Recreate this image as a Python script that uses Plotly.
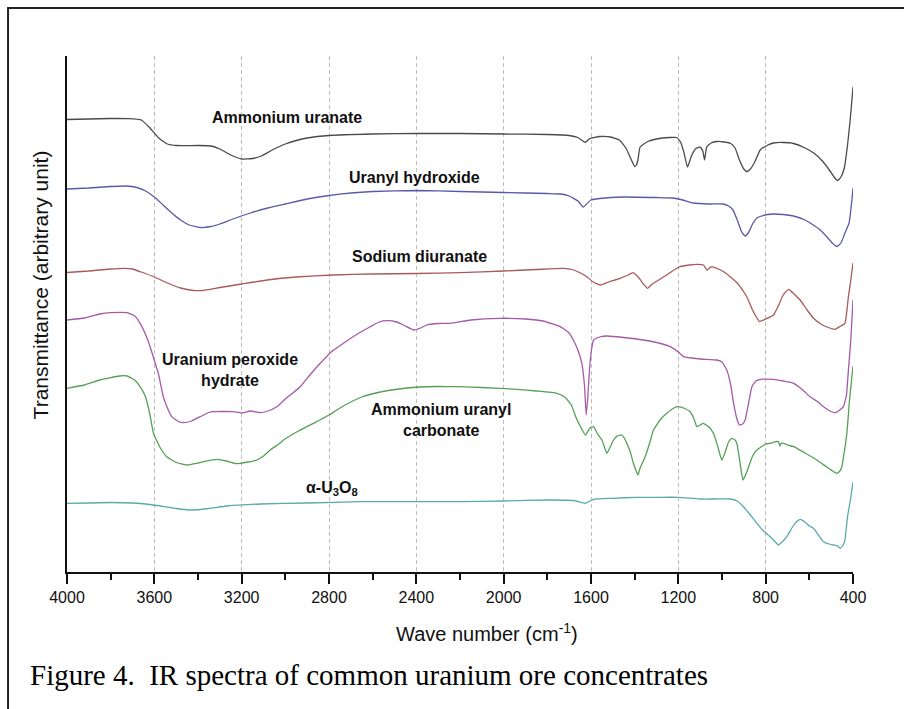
import plotly.graph_objects as go

# ---------------- data (wavenumber in cm^-1, transmittance in arbitrary offset units) ----------------
au_wn = [4000, 3900, 3800, 3720, 3660, 3620, 3580, 3540, 3500, 3400, 3340, 3300, 3250, 3200, 3150, 3110,
         3060, 3000, 2950, 2900, 2800, 2600, 2400, 2200, 2000, 1800, 1700, 1660, 1627, 1605, 1560, 1510,
         1470, 1440, 1415, 1400, 1392, 1385, 1375, 1340, 1300, 1240, 1207, 1190, 1175, 1158, 1140, 1120,
         1100, 1088, 1080, 1070, 1050, 1024, 990, 960, 940, 920, 900, 886, 870, 850, 825, 790, 764, 720,
         672, 620, 580, 540, 505, 480, 470, 455, 440, 425, 413, 405, 400]
au_t = [4.525, 4.53, 4.535, 4.533, 4.52, 4.44, 4.34, 4.28, 4.265, 4.265, 4.26, 4.23, 4.17, 4.13, 4.135, 4.16,
        4.22, 4.28, 4.315, 4.34, 4.365, 4.38, 4.385, 4.385, 4.38, 4.375, 4.365, 4.345, 4.295, 4.335, 4.355, 4.35,
        4.32, 4.24, 4.12, 4.055, 4.07, 4.12, 4.25, 4.305, 4.33, 4.345, 4.345, 4.30, 4.20, 4.05, 4.16, 4.235,
        4.25, 4.21, 4.12, 4.25, 4.29, 4.305, 4.30, 4.285, 4.24, 4.12, 4.03, 4.005, 4.03, 4.10, 4.22, 4.27, 4.29, 4.295,
        4.285, 4.24, 4.19, 4.11, 4.01, 3.93, 3.915, 3.95, 4.04, 4.27, 4.52, 4.72, 4.85]

uh_wn = [4000, 3900, 3800, 3730, 3680, 3640, 3600, 3560, 3520, 3480, 3440, 3390, 3340, 3300, 3240, 3160,
         3080, 3000, 2900, 2800, 2700, 2600, 2400, 2200, 2000, 1800, 1740, 1700, 1660, 1636, 1620, 1600,
         1560, 1450, 1300, 1224, 1180, 1132, 1060, 995, 970, 950, 930, 910, 894, 880, 860, 840, 825, 790,
         765, 720, 673, 620, 582, 550, 519, 495, 473, 455, 437, 418, 405, 400]
uh_t = [3.83, 3.84, 3.855, 3.86, 3.845, 3.81, 3.75, 3.67, 3.59, 3.52, 3.47, 3.445, 3.455, 3.48, 3.53, 3.59,
        3.64, 3.68, 3.73, 3.765, 3.79, 3.805, 3.815, 3.805, 3.795, 3.785, 3.78, 3.76, 3.71, 3.65, 3.68, 3.72,
        3.735, 3.75, 3.745, 3.74, 3.72, 3.69, 3.68, 3.68, 3.66, 3.62, 3.52, 3.40, 3.36, 3.39, 3.48, 3.54, 3.555, 3.575,
        3.58, 3.575, 3.56, 3.52, 3.47, 3.42, 3.35, 3.29, 3.255, 3.29, 3.39, 3.49, 3.72, 3.84]

sd_wn = [4000, 3900, 3800, 3740, 3700, 3660, 3600, 3540, 3480, 3420, 3380, 3300, 3200, 3083, 2950, 2780,
         2600, 2400, 2200, 2000, 1850, 1727, 1680, 1640, 1619, 1590, 1558, 1520, 1467, 1430, 1408, 1380,
         1360, 1341, 1320, 1290, 1253, 1220, 1192, 1150, 1115, 1085, 1069, 1050, 1024, 990, 963, 930, 900,
         886, 860, 840, 828, 800, 764, 740, 720, 695, 670, 642, 610, 581, 540, 500, 482, 460, 437, 421, 410, 400]
sd_t = [2.995, 3.01, 3.03, 3.037, 3.03, 3.00, 2.95, 2.89, 2.84, 2.815, 2.815, 2.845, 2.88, 2.92, 2.95, 2.97,
        2.98, 2.985, 2.993, 3.01, 3.025, 3.037, 3.02, 2.98, 2.953, 2.90, 2.87, 2.90, 2.937, 2.97, 2.993, 2.94,
        2.88, 2.837, 2.88, 2.92, 2.97, 3.02, 3.053, 3.07, 3.077, 3.07, 3.02, 3.05, 3.037, 3.00, 2.953, 2.89, 2.80,
        2.75, 2.62, 2.54, 2.503, 2.53, 2.57, 2.67, 2.77, 2.827, 2.78, 2.72, 2.62, 2.537, 2.47, 2.435, 2.427, 2.455,
        2.487, 2.753, 2.92, 3.09]

up_wn = [4000, 3920, 3850, 3800, 3725, 3690, 3665, 3630, 3605, 3580, 3559, 3540, 3520, 3490, 3466, 3430,
         3390, 3350, 3329, 3280, 3239, 3200, 3160, 3115, 3080, 3039, 3000, 2960, 2932, 2880, 2840, 2790,
         2734, 2670, 2611, 2570, 2535, 2490, 2459, 2413, 2380, 2352, 2300, 2245, 2150, 2016, 1900, 1820,
         1741, 1700, 1681, 1660, 1642, 1630, 1622, 1614, 1607, 1598, 1588, 1560, 1527, 1450, 1360, 1290,
         1237, 1200, 1176, 1100, 1024, 1000, 978, 960, 947, 930, 920, 905, 894, 880, 863, 845, 825, 764,
         720, 672, 630, 597, 560, 535, 505, 482, 460, 444, 430, 421, 410, 400]
up_t = [2.52, 2.54, 2.58, 2.593, 2.593, 2.56, 2.487, 2.32, 2.153, 1.97, 1.753, 1.64, 1.553, 1.505, 1.493, 1.51,
        1.553, 1.595, 1.603, 1.605, 1.603, 1.59, 1.61, 1.593, 1.61, 1.653, 1.73, 1.80, 1.853, 1.99, 2.087, 2.20,
        2.287, 2.38, 2.453, 2.50, 2.513, 2.50, 2.47, 2.42, 2.44, 2.47, 2.485, 2.487, 2.52, 2.537, 2.53, 2.51,
        2.453, 2.39, 2.32, 2.22, 2.087, 1.87, 1.57, 1.77, 2.02, 2.22, 2.32, 2.35, 2.36, 2.345, 2.32, 2.29,
        2.253, 2.20, 2.153, 2.13, 2.12, 2.10, 2.02, 1.87, 1.687, 1.52, 1.47, 1.48, 1.52, 1.67, 1.853, 1.91, 1.927, 1.927,
        1.91, 1.887, 1.82, 1.753, 1.70, 1.653, 1.61, 1.593, 1.62, 1.653, 1.77, 2.02, 2.32, 2.72]

uc_wn = [4000, 3920, 3850, 3760, 3725, 3690, 3665, 3640, 3620, 3604, 3575, 3543, 3500, 3451, 3400, 3375,
         3313, 3270, 3230, 3207, 3170, 3130, 3100, 3069, 3030, 3008, 2940, 2871, 2800, 2764, 2718, 2650,
         2565, 2480, 2383, 2300, 2199, 2100, 1939, 1850, 1756, 1720, 1690, 1670, 1645, 1625, 1605, 1588,
         1570, 1550, 1527, 1510, 1497, 1480, 1459, 1445, 1436, 1420, 1406, 1395, 1385, 1375, 1352, 1330,
         1314, 1280, 1253, 1220, 1201, 1170, 1146, 1130, 1115, 1100, 1085, 1060, 1039, 1020, 1001, 985,
         970, 955, 940, 932, 918, 904, 890, 878, 860, 840, 800, 779, 755, 741, 735, 728, 700, 672, 620,
         566, 520, 490, 474, 460, 451, 440, 428, 416, 400]
uc_t = [1.837, 1.87, 1.92, 1.96, 1.96, 1.92, 1.853, 1.75, 1.57, 1.387, 1.25, 1.153, 1.095, 1.07, 1.09, 1.103,
        1.127, 1.11, 1.085, 1.087, 1.10, 1.12, 1.16, 1.22, 1.28, 1.32, 1.41, 1.487, 1.57, 1.62, 1.68, 1.75,
        1.80, 1.83, 1.85, 1.855, 1.853, 1.845, 1.827, 1.81, 1.787, 1.75, 1.67, 1.553, 1.44, 1.37, 1.44, 1.453,
        1.38, 1.32, 1.187, 1.26, 1.32, 1.36, 1.37, 1.33, 1.287, 1.20, 1.087, 1.02, 0.97, 1.04, 1.153, 1.30,
        1.42, 1.53, 1.587, 1.64, 1.653, 1.635, 1.603, 1.54, 1.453, 1.47, 1.487, 1.45, 1.387, 1.26, 1.12, 1.20,
        1.30, 1.337, 1.32, 1.287, 1.10, 0.92, 0.98, 1.053, 1.16, 1.22, 1.28, 1.287, 1.303, 1.303, 1.26, 1.29, 1.27, 1.253, 1.19,
        1.12, 1.05, 1.005, 0.987, 1.01, 1.053, 1.20, 1.387, 1.72, 2.06]

uo_wn = [4000, 3900, 3800, 3700, 3620, 3573, 3500, 3436, 3350, 3268, 3115, 2900, 2657, 2400, 2199, 2000,
         1787, 1680, 1627, 1600, 1588, 1500, 1390, 1300, 1201, 1100, 1030, 963, 930, 902, 870, 840, 810,
         779, 760, 741, 720, 703, 680, 660, 642, 620, 600, 581, 555, 535, 510, 490, 470, 459, 445, 437,
         425, 412, 400]
uo_t = [0.687, 0.69, 0.695, 0.69, 0.675, 0.66, 0.635, 0.62, 0.635, 0.66, 0.68, 0.69, 0.703, 0.703, 0.703, 0.71,
        0.72, 0.715, 0.687, 0.715, 0.727, 0.737, 0.747, 0.747, 0.747, 0.73, 0.73, 0.73, 0.71, 0.653, 0.57, 0.487, 0.41,
        0.353, 0.31, 0.27, 0.31, 0.353, 0.44, 0.50, 0.527, 0.50, 0.46, 0.437, 0.36, 0.303, 0.28, 0.27, 0.26, 0.237, 0.27, 0.32,
        0.553, 0.72, 0.90]

series = [
    ("Ammonium uranate", au_wn, au_t, "#4a4a4a"),
    ("Uranyl hydroxide", uh_wn, uh_t, "#5a5aaa"),
    ("Sodium diuranate", sd_wn, sd_t, "#a85a5a"),
    ("Uranium peroxide hydrate", up_wn, up_t, "#a55aa8"),
    ("Ammonium uranyl carbonate", uc_wn, uc_t, "#55a055"),
    ("α-U3O8", uo_wn, uo_t, "#5aaaaa"),
]

labels = ["Ammonium uranate", "Uranyl hydroxide", "Sodium diuranate",
          "Uranium peroxide<br>hydrate", "Ammonium uranyl<br>carbonate", "α-U<sub>3</sub>O<sub>8</sub>"]
label_wn = [2992, 2410, 2387, 3253, 2286, 2785]
label_t = [4.55, 3.95, 3.153, 2.025, 1.52, 0.84]

x_ticks = [4000, 3600, 3200, 2800, 2400, 2000, 1600, 1200, 800, 400]
x_minor = [3800, 3400, 3000, 2600, 2200, 1800, 1400, 1000, 600]

fig = go.Figure()
for name, wn, t, col in series:
    fig.add_trace(go.Scatter(x=wn, y=t, mode="lines", name=name,
                             line=dict(color=col, width=1.3, shape="spline", smoothing=0.4),
                             showlegend=False, hoverinfo="skip"))

for txt, xw, yt in zip(labels, label_wn, label_t):
    fig.add_annotation(x=xw, y=yt, xref="x", yref="y", text=f"<b>{txt}</b>", showarrow=False,
                       font=dict(family="Liberation Sans, Arial", size=16, color="#111111"),
                       align="center", xanchor="center", yanchor="middle")

fig.add_annotation(x=-0.034, y=0.556, xref="paper", yref="paper", text="Transmittance (arbitrary unit)",
                   textangle=-90, showarrow=False, xanchor="center", yanchor="middle",
                   font=dict(family="Liberation Sans, Arial", size=21, color="#111111"))
fig.add_annotation(x=0.534, y=-0.118, xref="paper", yref="paper", text="Wave number (cm<sup>-1</sup>)",
                   showarrow=False, xanchor="center", yanchor="middle",
                   font=dict(family="Liberation Sans, Arial", size=20, color="#111111"))
fig.add_annotation(x=-0.049, y=-0.2, xref="paper", yref="paper",
                   text="Figure 4.  IR spectra of common uranium ore concentrates",
                   showarrow=False, xanchor="left", yanchor="middle",
                   font=dict(family="Liberation Serif, Times New Roman", size=29, color="#000000"))

# outer frame
fig.add_shape(type="rect", xref="paper", yref="paper", x0=-0.075, x1=1.1, y0=-0.3, y1=1.093,
              line=dict(color="#222222", width=2), fillcolor="rgba(0,0,0,0)", layer="above")

fig.update_layout(
    width=904, height=709,
    margin=dict(l=67, r=51, t=56, b=137),
    paper_bgcolor="white", plot_bgcolor="white",
    xaxis=dict(range=[4000, 400], tickvals=x_ticks, ticktext=[str(v) for v in x_ticks],
               showline=True, linecolor="#111111", linewidth=2, mirror=False,
               ticks="outside", ticklen=10, tickwidth=2, tickcolor="#111111",
               minor=dict(tickvals=x_minor, ticks="outside", ticklen=6, tickwidth=2,
                          tickcolor="#111111", showgrid=False),
               showgrid=True, gridcolor="#bdbdbd", gridwidth=1, griddash="4px,3px",
               zeroline=False,
               tickfont=dict(family="Liberation Sans, Arial", size=16, color="#111111")),
    yaxis=dict(range=[0, 5.16], showline=True, linecolor="#111111", linewidth=2,
               showticklabels=False, ticks="", showgrid=False, zeroline=False),
)

fig.write_html("out.html")
